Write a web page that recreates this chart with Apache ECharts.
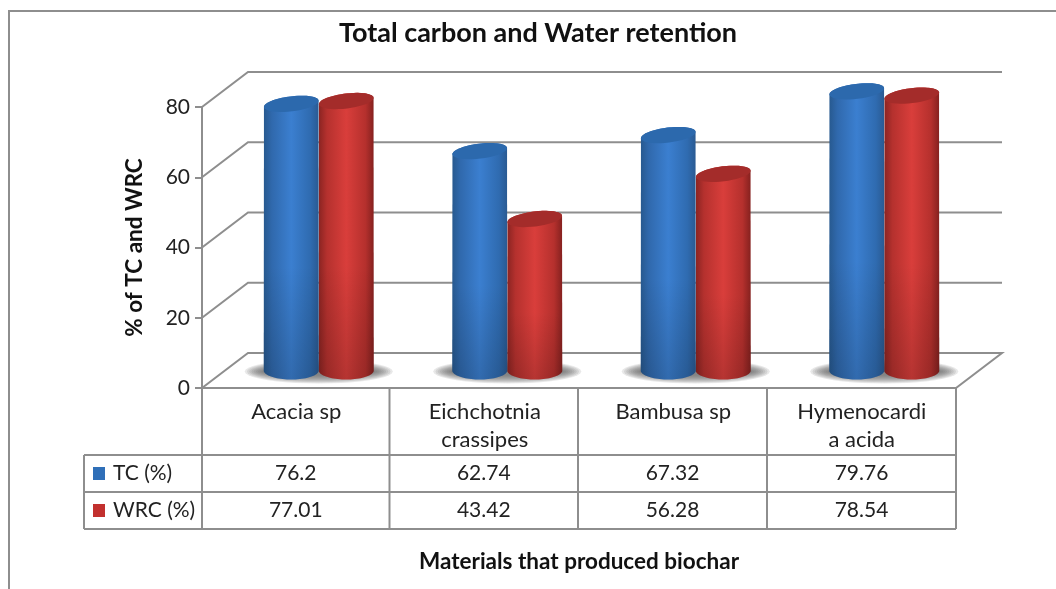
<!DOCTYPE html>
<html>
<head>
<meta charset="utf-8">
<style>html,body{margin:0;padding:0;background:#fff}#main{width:1056px;height:589px}</style>
<script src="https://cdn.jsdelivr.net/npm/echarts@6/dist/echarts.min.js"></script>
</head>
<body>
<div id="main"></div>
<script>
const categories = ["Acacia sp", "Eichchotnia\ncrassipes", "Bambusa sp", "Hymenocardi\na acida"];
const tcValues = [76.2, 62.74, 67.32, 79.76];
const wrcValues = [77.01, 43.42, 56.28, 78.54];
const tickValues = [0, 20, 40, 60, 80];

const myChart = echarts.init(document.getElementById("main"));

// fake 3d: depth of the box, bars stand in the middle of it
const depthX = 46, depthY = 35;
const lineColor = "#8e8e8e";
const font = "Lato";

function ellipsePts(cx, cy, rx, ry, tilt, from, to) {
  const pts = [];
  const c = Math.cos(tilt), s = Math.sin(tilt);
  for (let i = 0; i <= 40; i++) {
    const a = from + (to - from) * i / 40;
    const x = rx * Math.cos(a), y = ry * Math.sin(a);
    pts.push([cx + x * c - y * s, cy + x * s + y * c]);
  }
  return pts;
}

function hGrad(stops) {
  return { type: "linear", x: 0, y: 0, x2: 1, y2: 0, colorStops: stops };
}

const blueBody = hGrad([
  { offset: 0, color: "#27598f" }, { offset: 0.15, color: "#3069ad" },
  { offset: 0.5, color: "#3b7fd0" }, { offset: 0.85, color: "#2f6bb0" }, { offset: 1, color: "#2a5a92" }
]);
const redBody = hGrad([
  { offset: 0, color: "#8a2422" }, { offset: 0.15, color: "#b5312e" },
  { offset: 0.5, color: "#d93e3b" }, { offset: 0.85, color: "#b5302d" }, { offset: 1, color: "#85211f" }
]);

function cylinder(side, body, topColor) {
  return function (params, api) {
    const i = api.value(0);
    const p = api.coord([i, api.value(1)]);
    const base = api.coord([i, 0]);
    const w = 55;
    const cx = p[0] + depthX / 2 - 0.5 + side * w / 2;
    const topY = p[1] - depthY / 2 + 1;
    const baseY = base[1] - depthY / 2;
    const rx = w / 2;
    const tilt = -7 * Math.PI / 180;
    const lower = ellipsePts(cx, baseY, rx, 9, 0, 0, Math.PI);
    const upper = ellipsePts(cx, topY, rx, 7.5, tilt, Math.PI, 2 * Math.PI);
    const fade = { type: "linear", x: 0, y: 0, x2: 0, y2: 1, colorStops: [
      { offset: 0, color: "rgba(0,0,0,0)" }, { offset: 0.6, color: "rgba(0,0,0,0)" }, { offset: 1, color: "rgba(0,0,0,0.16)" }
    ] };
    return {
      type: "group",
      children: [
        { type: "polygon", shape: { points: lower.concat(upper) }, style: { fill: body } },
        { type: "polygon", shape: { points: lower.concat(upper) }, style: { fill: fade } },
        { type: "polygon", shape: { points: ellipsePts(cx, topY, rx, 7.5, tilt, 0, 2 * Math.PI) }, style: { fill: topColor } }
      ]
    };
  };
}

function renderWall(params, api) {
  const cs = params.coordSys;
  const p = api.coord([0, api.value(1)]);
  const isFloor = api.value(1) === 0;
  const right = cs.x + cs.width;
  const pts = [[cs.x, p[1]], [cs.x + depthX, p[1] - depthY], [right + depthX, p[1] - depthY]];
  if (isFloor) pts.push([right, p[1]], [cs.x, p[1]]);
  return { type: "polyline", shape: { points: pts }, style: { stroke: lineColor, lineWidth: 2, fill: null }, silent: true };
}

// soft floor shadow: stacked see-through ellipses
function renderShadow(params, api) {
  const p = api.coord([api.value(0), 0]);
  const cx = p[0] + depthX / 2 - 0.5;
  const cy = p[1] - depthY / 2 + 1;
  const layers = [];
  for (let k = 0; k < 9; k++) {
    layers.push({
      type: "polygon",
      shape: { points: ellipsePts(cx, cy, 74 - k * 2.2, 12 - k, 0, 0, 2 * Math.PI) },
      style: { fill: "rgba(95,95,95,0.14)" }
    });
  }
  return { type: "group", children: layers, silent: true };
}

// data table under the plot
const colX = [202, 389.5, 578, 767, 956];
const rowY = [388, 455, 492, 529];
const tableLeft = 84;
const tableParts = [];
function hLine(x1, x2, y) {
  tableParts.push({ type: "line", shape: { x1: x1, y1: y, x2: x2, y2: y }, style: { stroke: lineColor, lineWidth: 2 } });
}
function vLine(x, y1, y2) {
  tableParts.push({ type: "line", shape: { x1: x, y1: y1, x2: x, y2: y2 }, style: { stroke: lineColor, lineWidth: 2 } });
}
hLine(tableLeft, colX[4], rowY[1]);
hLine(tableLeft, colX[4], rowY[2]);
hLine(tableLeft, colX[4], rowY[3]);
vLine(tableLeft, rowY[1], rowY[3]);
colX.forEach(function (x) { vLine(x, rowY[0], rowY[3]); });
// outer frame, open on the right and at the bottom
tableParts.push({ type: "polyline", shape: { points: [[9, 589], [9, 11], [1056, 11]] }, style: { stroke: lineColor, lineWidth: 2, fill: null } });
[tcValues, wrcValues].forEach(function (vals, r) {
  vals.forEach(function (v, c) {
    tableParts.push({
      type: "text",
      style: {
        x: (colX[c] + colX[c + 1]) / 2, y: (rowY[r + 1] + rowY[r + 2]) / 2,
        text: String(v), align: "center", verticalAlign: "middle",
        font: "21px " + font, fill: "#222"
      }
    });
  });
});

const option = {
  backgroundColor: "#fff",
  animation: false,
  title: {
    text: "Total carbon and Water retention",
    left: 533, top: 15, textAlign: "center",
    textStyle: { fontFamily: font, fontSize: 27, fontWeight: "bold", color: "#111" }
  },
  legend: {
    orient: "vertical", left: 93, top: 463, padding: 0, itemWidth: 12, itemHeight: 13, itemGap: 16,
    selectedMode: false, icon: "rect",
    data: ["TC (%)", "WRC (%)"],
    textStyle: { fontFamily: font, fontSize: 21, color: "#222", padding: [0, 0, 0, 3] }
  },
  grid: { left: 202, right: 100, top: 107, bottom: 201 },
  xAxis: {
    type: "category",
    data: categories,
    axisLine: { show: false },
    axisTick: { show: false },
    axisLabel: { fontFamily: font, fontSize: 22, color: "#222", margin: 10, lineHeight: 28, verticalAlign: "top", interval: 0 },
    name: "Materials that produced biochar",
    nameLocation: "middle",
    nameGap: 162,
    nameTextStyle: { fontFamily: font, fontSize: 22.5, fontWeight: "bold", color: "#111" }
  },
  yAxis: {
    type: "value",
    min: 0, max: 80, interval: 20,
    splitLine: { show: false },
    axisLine: { show: true, lineStyle: { color: lineColor, width: 2 } },
    axisTick: { show: true, length: 7, lineStyle: { color: lineColor, width: 2 } },
    axisLabel: { fontFamily: font, fontSize: 21, color: "#222", margin: 12 },
    name: "% of TC and WRC",
    nameLocation: "middle",
    nameGap: 56,
    nameTextStyle: { fontFamily: font, fontSize: 22.5, fontWeight: "bold", color: "#111" }
  },
  series: [
    { type: "custom", name: "wall", renderItem: renderWall, data: tickValues.map(function (v) { return [0, v]; }), encode: { x: 0, y: 1 }, silent: true, z: 1, clip: false },
    { type: "custom", name: "shadow", renderItem: renderShadow, data: categories.map(function (c, i) { return [i, 0]; }), encode: { x: 0, y: 1 }, silent: true, z: 2, clip: false },
    { type: "custom", name: "TC (%)", renderItem: cylinder(-1, blueBody, "#2c69ad"), data: tcValues.map(function (v, i) { return [i, v]; }), encode: { x: 0, y: 1 }, itemStyle: { color: "#2f6fb8" }, z: 4, clip: false },
    { type: "custom", name: "WRC (%)", renderItem: cylinder(1, redBody, "#a42c2a"), data: wrcValues.map(function (v, i) { return [i, v]; }), encode: { x: 0, y: 1 }, itemStyle: { color: "#c2302e" }, z: 3, clip: false }
  ],
  graphic: [{ type: "group", silent: true, z: 5, children: tableParts }]
};

option && myChart.setOption(option);
</script>
</body>
</html>
